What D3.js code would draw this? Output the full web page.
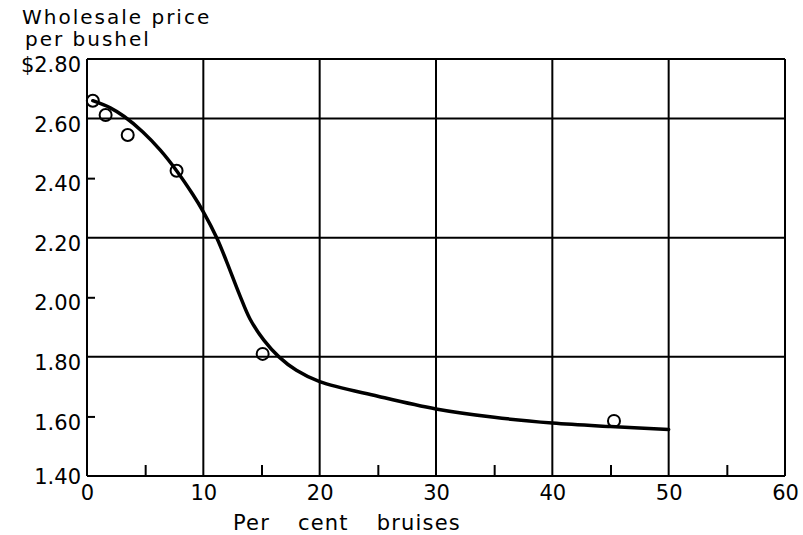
<!DOCTYPE html>
<html>
<head>
<meta charset="utf-8">
<script src="https://cdn.jsdelivr.net/npm/d3@7/dist/d3.min.js"></script>
<style>
  body { margin: 0; background: #fff; }
  svg text { font-family: "DejaVu Sans", sans-serif; fill: #000; }
</style>
</head>
<body>
<svg width="803" height="535"></svg>
<script>
// smooth fitted curve
const curveBruise = [0.5, 2, 3.2, 4.8, 6.3, 7.7, 9.1, 10, 11.15, 12.0, 13.1, 14.0, 15.2, 16.5, 18, 20, 25, 30, 35, 40, 45, 50];
const curvePrice = [2.66, 2.636, 2.607, 2.555, 2.494, 2.425, 2.345, 2.287, 2.20, 2.12, 2.01, 1.928, 1.856, 1.80, 1.755, 1.717, 1.668, 1.625, 1.597, 1.578, 1.566, 1.556];

// observed points (circles)
const obsBruise = [0.5, 1.6, 3.5, 7.7, 15.1, 45.3];
const obsPrice = [2.66, 2.612, 2.545, 2.425, 1.81, 1.585];

// axis ticks
const xLabels = [0, 10, 20, 30, 40, 50, 60];
const xMinor = [5, 15, 25, 35, 45, 55];
const yLabels = [1.4, 1.6, 1.8, 2.0, 2.2, 2.4, 2.6, 2.8];
const yMinor = [1.6, 2.0, 2.4];
const yGrid = [1.4, 1.8, 2.2, 2.6, 2.8];

const svg = d3.select("svg");
const plotLeft = 87, plotRight = 785, plotTop = 59, plotBottom = 476;

const x = d3.scaleLinear().domain([0, 60]).range([plotLeft, plotRight]);
const y = d3.scaleLinear().domain([1.4, 2.8]).range([plotBottom, plotTop]);

// grid lines (include the axes themselves)
svg.selectAll(".vgrid")
  .data(xLabels)
  .enter()
  .append("line")
  .attr("class", "vgrid")
  .attr("x1", d => x(d)).attr("x2", d => x(d))
  .attr("y1", y(2.8)).attr("y2", y(1.4))
  .attr("stroke", "#000")
  .attr("stroke-width", 2);

svg.selectAll(".hgrid")
  .data(yGrid)
  .enter()
  .append("line")
  .attr("class", "hgrid")
  .attr("x1", x(0)).attr("x2", x(60))
  .attr("y1", d => y(d)).attr("y2", d => y(d))
  .attr("stroke", "#000")
  .attr("stroke-width", 2);

// minor ticks, pointing inward
const yTickAxis = svg.append("g")
  .attr("transform", `translate(${x(0)},0)`)
  .call(d3.axisRight(y).tickValues(yMinor).tickSize(8).tickFormat(""));
const xTickAxis = svg.append("g")
  .attr("transform", `translate(0,${y(1.4)})`)
  .call(d3.axisTop(x).tickValues(xMinor).tickSize(11).tickFormat(""));
[yTickAxis, xTickAxis].forEach(g => {
  g.select(".domain").remove();
  g.selectAll("line").attr("stroke", "#000").attr("stroke-width", 2);
});

// tick labels
const yAxis = svg.append("g")
  .attr("transform", `translate(${x(0) - 6},0)`)
  .call(d3.axisLeft(y).tickValues(yLabels).tickSize(0)
    .tickFormat(d => (d === 2.8 ? "$" : "") + d3.format(".2f")(d)));
yAxis.select(".domain").remove();
yAxis.selectAll("text")
  .attr("x", 0)
  .attr("dy", d => d === 1.4 ? "0.35em" : "0.6em")
  .style("font-size", "21px")
  .style("font-family", "DejaVu Sans, sans-serif")
  .attr("fill", "#000");

const xAxis = svg.append("g")
  .attr("transform", `translate(0,${y(1.4)})`)
  .call(d3.axisBottom(x).tickValues(xLabels).tickSize(0).tickFormat(d3.format("d")));
xAxis.select(".domain").remove();
xAxis.selectAll("text")
  .attr("y", 0)
  .attr("dy", 24)
  .style("font-size", "21px")
  .style("font-family", "DejaVu Sans, sans-serif")
  .attr("fill", "#000");

// fitted curve
const curveData = curveBruise.map((b, i) => ({ b, p: curvePrice[i] }));
const line = d3.line()
  .x(d => x(d.b))
  .y(d => y(d.p))
  .curve(d3.curveCatmullRom.alpha(0.5));

svg.append("path")
  .datum(curveData)
  .attr("d", line)
  .attr("fill", "none")
  .attr("stroke", "#000")
  .attr("stroke-width", 3.5)
  .attr("stroke-linecap", "round");

// observations
const obsData = obsBruise.map((b, i) => ({ b, p: obsPrice[i] }));
svg.selectAll(".obs")
  .data(obsData)
  .enter()
  .append("circle")
  .attr("class", "obs")
  .attr("cx", d => x(d.b))
  .attr("cy", d => y(d.p))
  .attr("r", 6)
  .attr("fill", "none")
  .attr("stroke", "#000")
  .attr("stroke-width", 2);

// axis titles
svg.append("text")
  .attr("x", 22).attr("y", 24)
  .style("font-size", "20px")
  .style("letter-spacing", "2px")
  .text("Wholesale price");
svg.append("text")
  .attr("x", 25).attr("y", 46)
  .style("font-size", "20px")
  .style("letter-spacing", "2px")
  .text("per bushel");
svg.append("text")
  .attr("x", 233).attr("y", 530)
  .style("font-size", "21px")
  .style("letter-spacing", "1.2px")
  .style("word-spacing", "20px")
  .text("Per cent bruises");
</script>
</body>
</html>
